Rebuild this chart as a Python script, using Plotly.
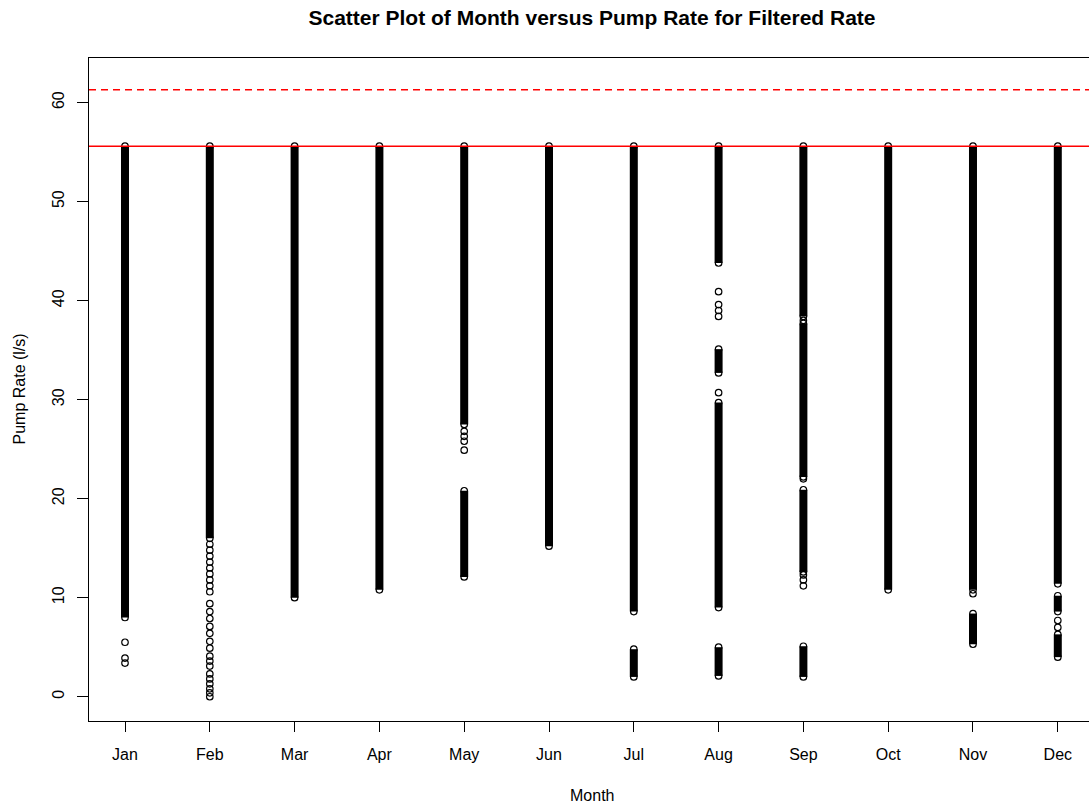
import plotly.graph_objects as go

# ---------------- data ----------------
months = ["Jan", "Feb", "Mar", "Apr", "May", "Jun", "Jul", "Aug", "Sep", "Oct", "Nov", "Dec"]

# dense runs of points, drawn as solid columns: month index (1-12), low value, high value
seg_month = [1, 2, 3, 4, 5, 5, 6, 7, 7, 8, 8, 8, 8, 9, 9, 9, 9, 10, 11, 11, 12, 12, 12]
seg_lo    = [8.0, 16.0, 10.0, 10.8, 27.5, 12.1, 15.2, 8.6, 2.0, 43.8, 32.7, 9.0, 2.1,
             38.4, 22.2, 12.6, 2.0, 10.8, 10.8, 5.3, 11.4, 8.6, 4.0]
seg_hi    = [55.6, 55.6, 55.6, 55.6, 55.6, 20.8, 55.6, 55.6, 4.8, 55.6, 35.1, 29.7, 5.0,
             55.6, 37.7, 20.9, 5.1, 55.6, 55.6, 8.4, 55.6, 10.2, 6.3]

# isolated points
pt_month = [1, 1, 1,
            2, 2, 2, 2, 2, 2, 2, 2, 2, 2, 2, 2, 2, 2, 2, 2, 2, 2, 2, 2, 2, 2, 2, 2, 2,
            5, 5, 5, 5,
            8, 8, 8, 8, 8,
            9, 9, 9, 9, 9,
            11,
            12, 12]
pt_val   = [5.5, 3.9, 3.4,
            15.4, 14.8, 14.2, 13.6, 13.0, 12.4, 11.8, 11.2, 10.6,
            9.4, 8.6, 7.9, 7.1, 6.4, 5.6, 4.9, 4.1, 3.6, 3.1, 2.3, 1.8, 1.3, 0.8, 0.4, 0.0,
            26.8, 26.3, 25.8, 24.9,
            40.9, 39.6, 39.0, 38.4, 30.7,
            38.0, 22.0, 12.3, 11.8, 11.2,
            10.4,
            7.7, 7.0]

limit_solid = 55.6
limit_dashed = 61.3

y_ticks = [0, 10, 20, 30, 40, 50, 60]

# ---------------- figure ----------------
fig = go.Figure()

# solid columns for dense runs
lx, ly = [], []
for m, lo, hi in zip(seg_month, seg_lo, seg_hi):
    lx += [m, m, None]
    ly += [lo, hi, None]
fig.add_trace(go.Scatter(x=lx, y=ly, mode="lines",
                         line=dict(color="black", width=8),
                         hoverinfo="skip"))

# open circles at run ends and isolated points
mx, my = [], []
for m, lo, hi in zip(seg_month, seg_lo, seg_hi):
    mx += [m, m]
    my += [lo, hi]
mx += pt_month
my += pt_val
fig.add_trace(go.Scatter(x=mx, y=my, mode="markers",
                         marker=dict(symbol="circle-open", size=6.5,
                                     color="black", line=dict(width=1.2, color="black"))))

fig.add_shape(type="line", xref="paper", x0=0, x1=1, yref="y", y0=limit_solid, y1=limit_solid,
              line=dict(color="#ff0000", width=1.5), layer="above")
fig.add_shape(type="line", xref="paper", x0=0, x1=1, yref="y", y0=limit_dashed, y1=limit_dashed,
              line=dict(color="#ff0000", width=1.5, dash="7px,5px"), layer="above")

font_family = "Liberation Sans, Arial, sans-serif"

fig.update_layout(
    width=1089, height=805,
    margin=dict(l=89, r=0, t=58, b=84),
    plot_bgcolor="white", paper_bgcolor="white",
    showlegend=False,
    font=dict(family=font_family, size=16, color="black"),
    title=dict(text="<b>Scatter Plot of Month versus Pump Rate for Filtered Rate</b>",
               font=dict(family=font_family, size=21, color="black"),
               xref="container", x=592 / 1089, xanchor="center",
               yref="container", y=1 - 18 / 805, yanchor="middle"),
    xaxis=dict(range=[0.5755, 12.368], tickmode="array",
               tickvals=list(range(1, 13)), ticktext=months,
               ticks="outside", ticklen=10, tickwidth=1, tickcolor="black",
               showline=True, linecolor="black", linewidth=1, mirror=True,
               showgrid=False, zeroline=False, ticklabelstandoff=9,
               tickfont=dict(size=16)),
    yaxis=dict(range=[-2.45, 64.5], tickmode="array", tickvals=y_ticks,
               tickangle=-90,
               ticks="outside", ticklen=11, tickwidth=1, tickcolor="black",
               showline=True, linecolor="black", linewidth=1, mirror=False,
               showgrid=False, zeroline=False, ticklabelstandoff=7,
               tickfont=dict(size=16)),
    annotations=[
        dict(text="Month", xref="paper", x=(592 - 89) / 1000, yref="paper",
             y=(721 - 795) / 663, xanchor="center", yanchor="middle",
             showarrow=False, font=dict(size=16)),
        dict(text="Pump Rate (l/s)", xref="paper", x=(19 - 89) / 1000, yref="paper",
             y=0.5, xanchor="center", yanchor="middle", textangle=-90,
             showarrow=False, font=dict(size=16)),
    ],
)

fig.write_html("out.html")
